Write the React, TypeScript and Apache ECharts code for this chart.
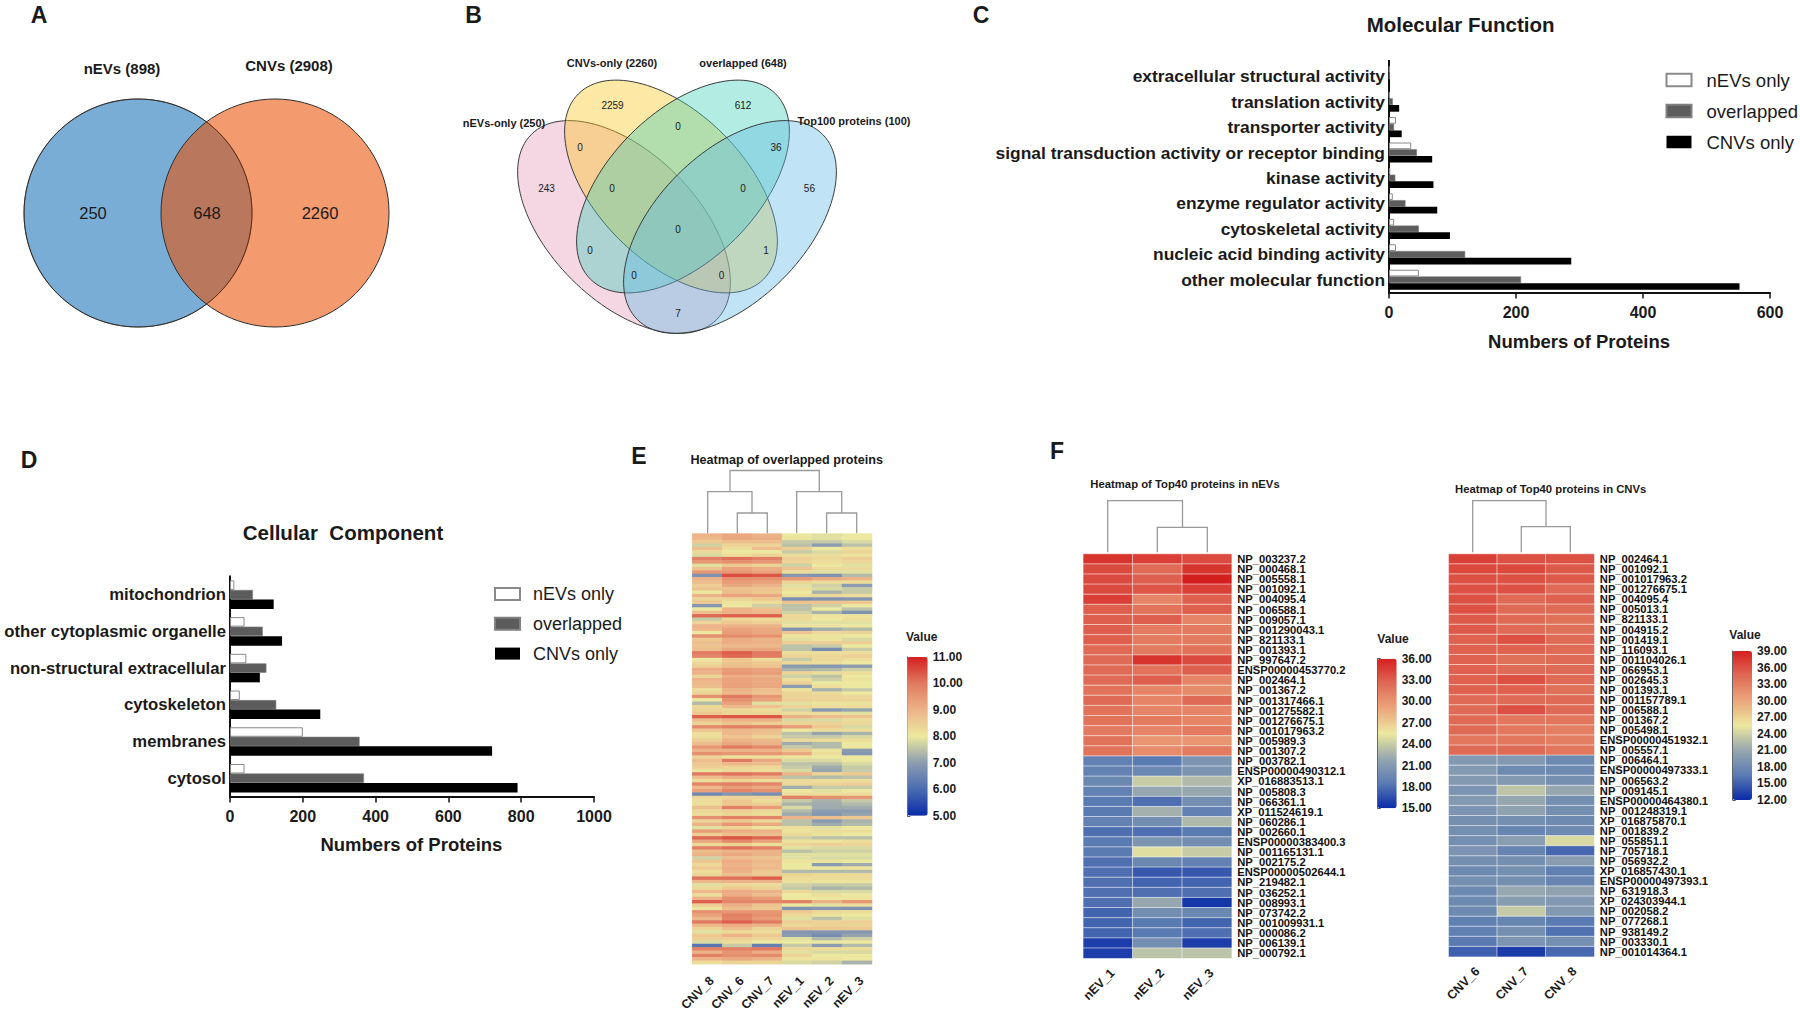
import React, { useEffect, useRef } from "react";
import * as echarts from "echarts";

const FONT = '"Liberation Sans", Arial, sans-serif';

// Venn A
const vennALabels = ["nEVs (898)", "CNVs (2908)"];
const vennAValues = ["250", "648", "2260"];
// Venn B
const vennBLabels = ["CNVs-only (2260)", "overlapped (648)", "nEVs-only (250)", "Top100 proteins (100)"];
const vennBValues = ["2259", "612", "243", "56", "0", "0", "36", "0", "0", "0", "0", "1", "0", "0", "7"];

// Bars
const seriesNames = ["nEVs only", "overlapped", "CNVs only"];
const mfCategories = [
  "extracellular structural activity", "translation activity", "transporter activity",
  "signal transduction activity or receptor binding", "kinase activity", "enzyme regulator activity",
  "cytoskeletal activity", "nucleic acid binding activity", "other molecular function",
];
const mfNev = [1, 1, 11, 35, 2, 6, 8, 11, 47];
const mfOverlap = [1, 6, 8, 44, 10, 26, 47, 120, 208];
const mfCnv = [1, 16, 20, 68, 70, 76, 96, 287, 552];
const mfTicks = [0, 600, 200];

const ccCategories = ["mitochondrion", "other cytoplasmic organelle", "non-structural extracellular", "cytoskeleton", "membranes", "cytosol"];
const ccNev = [12, 40, 45, 27, 200, 40];
const ccOverlap = [63, 90, 100, 127, 356, 368];
const ccCnv = [120, 143, 82, 248, 720, 790];
const ccTicks = [0, 1000, 200];

// Heatmap E: overlapped proteins, bands read top to bottom
const eColumns = ["CNV_8", "CNV_6", "CNV_7", "nEV_1", "nEV_2", "nEV_3"];
const overlapBandsA = [
  [9, 9.2, 9, 8, 7.9, 8], [8.9, 9.2, 9.1, 8.1, 7.9, 8], [8.6, 8.8, 8.8, 7.6, 7.6, 7.8], [7.7, 8.4, 8.4, 7.5, 7, 7.5],
  [8.8, 8.2, 8.8, 8.5, 8, 8.2], [8.3, 8, 8, 7.6, 7.8, 8.4], [7.8, 8.2, 8.4, 8.2, 8.2, 8.1], [9.9, 10.1, 9.9, 8.5, 8.3, 8.5],
  [9.5, 9.6, 9.5, 8.4, 8.2, 8.3], [7.9, 8.6, 8.4, 7.7, 8, 7.9], [8.7, 9.3, 9.1, 8.7, 8.3, 8.3], [9.5, 9.5, 9.3, 8.2, 7.9, 7.9],
  [6.8, 10.5, 10.4, 6.9, 6.8, 7.4], [9, 9.6, 9.6, 9.5, 9.2, 9], [8.8, 9.4, 9.3, 8.4, 8.2, 8.2], [8.5, 9.2, 9, 7.9, 7.7, 7],
  [8.7, 8.7, 8.7, 8.2, 7.8, 7.6], [8, 8.8, 8.6, 8, 7.3, 7.6], [9, 9.3, 9.2, 8.2, 8.3, 8.2], [8.4, 8.4, 8.6, 6.7, 6.8, 6.9],
  [8.6, 8.1, 8.2, 8.7, 8.7, 8.6], [6.9, 8, 7.7, 7.5, 7.7, 8], [8, 9, 8.8, 7.5, 8, 7.5], [8.8, 9, 8.9, 7.7, 7.3, 6.8],
  [10.2, 10.3, 10.3, 8.3, 8.1, 8.1], [7.6, 8.3, 8.2, 8.3, 8, 8.2], [8.4, 8.6, 8.5, 7.9, 7.9, 7.9], [9, 9, 9, 8.1, 8.1, 8],
  [8.9, 9.3, 9.2, 6.8, 7.2, 7.4], [8, 9.4, 9.2, 8.7, 8.3, 8.4], [9.6, 9.7, 9.6, 8.1, 8.1, 8], [8.6, 9.1, 9, 7.9, 8.1, 7.8],
  [8.8, 9.1, 9, 8.5, 8.5, 8.5],
];
const overlapBandsB = [
  [8.7, 8.9, 8.9, 7.5, 7.6, 8], [8.8, 9.2, 9.2, 7.5, 6.7, 7.6], [10, 10.3, 10, 8.2, 8.2, 8.2], [9.8, 10.2, 10, 8.4, 8.3, 8.5],
  [8, 8.6, 8.2, 7.6, 8.3, 8.2], [8.3, 8.7, 8.6, 8.3, 8.2, 8], [8.5, 8.8, 8.7, 7, 6.9, 7], [9.1, 9.4, 9.3, 7.3, 7.4, 7.7],
  [9, 9.5, 9.4, 8.4, 8.2, 8.2], [8.4, 9.1, 9, 7.7, 7.5, 8], [9, 9.3, 9.2, 8.2, 7.7, 8.1], [8.9, 9.3, 9.2, 8.5, 8, 8],
  [8.8, 9.3, 9.2, 7, 8.2, 8], [8.2, 9, 8.8, 8.1, 7.3, 7.6], [8.4, 8.9, 8.7, 8.4, 8.2, 8], [9.6, 10, 9.5, 8.4, 8.4, 8.3],
  [8, 9.6, 9.3, 8.5, 8.4, 8.4], [7.4, 9.3, 7.9, 7.9, 8.1, 8.1], [8.3, 8.9, 8.7, 8.4, 8.2, 8.2], [8.4, 8.3, 8.2, 7.7, 6.9, 7.1],
  [8.6, 8.4, 8.4, 8.2, 8.2, 7.9], [10.3, 10.4, 10.4, 9, 8.8, 8.7], [8.8, 9, 9, 7.8, 7.8, 8.2], [8.4, 8.7, 8.5, 8.4, 8.4, 8.3],
  [9.7, 9.9, 9.8, 9.4, 8.6, 7.8], [8.7, 8.9, 8.8, 8, 8.2, 8.2], [8.2, 8.9, 8.7, 7.5, 7.1, 7.3], [8.2, 8.7, 8.4, 7.6, 7.6, 7.8],
  [8.5, 9, 8.9, 8.3, 8.2, 8.2], [8.8, 9.2, 9, 7.2, 7.4, 8],
];
const overlapBandsC = [
  [9.5, 10, 9.7, 7.6, 7.4, 8], [9, 9, 9, 8.6, 8.1, 7], [9.6, 9.5, 9.5, 9.2, 8.2, 6.9], [8.4, 8.1, 8.2, 8.1, 8, 8],
  [8.8, 10, 9.2, 7.8, 7.8, 8], [8.6, 8.9, 8.8, 7.5, 7.5, 7.8], [8.5, 8.4, 8.3, 7.6, 7.2, 7.6], [8.1, 8.3, 8.2, 7.8, 7.1, 7.6],
  [10, 10.1, 10, 9, 8.4, 8.6], [8.8, 9.1, 9, 7.5, 7.4, 7.5], [8.2, 8.4, 8.2, 8.3, 8.2, 8.2], [9.8, 9.9, 9.8, 8.3, 8.4, 8.5],
  [8.9, 9.4, 9.2, 7.2, 7.6, 7.6], [9.3, 9.8, 9.6, 8, 7.9, 8], [6.6, 6.9, 6.7, 8.2, 8.2, 8.2], [8.3, 8.4, 8.4, 9.9, 9.6, 9.5],
  [8.2, 8.6, 8.2, 7.6, 7.3, 7.6], [8.2, 8.6, 8.5, 7.3, 7.2, 7.4], [8.8, 9.9, 9.4, 7.8, 7.2, 7.2], [8.3, 8.5, 8.3, 7.4, 7, 7],
  [8.2, 8.3, 8.2, 7.2, 6.9, 7.1], [9.6, 9.9, 9.8, 9, 8.8, 8.6], [8.4, 8.6, 8.3, 7.5, 7, 7.3], [9, 9.5, 9.2, 7.5, 7.2, 7.4],
  [7.9, 8.4, 8.1, 8.2, 7.9, 8], [9.4, 9.1, 9, 8.1, 8.2, 8.2], [8.5, 8.8, 8.8, 8.3, 8.1, 8], [10.2, 10.4, 10.2, 7.7, 7.5, 7.5],
  [9.2, 9.7, 9.3, 8.1, 8.1, 8.2], [8.3, 8.4, 8.2, 8.4, 8.5, 8.4], [9.9, 10.1, 9.9, 7.9, 7.8, 7.8], [8.8, 9, 9, 7.5, 7.7, 7.7],
];
const overlapBandsD = [
  [9, 9.2, 9, 7.9, 7.9, 7.9], [7.7, 8.8, 8.7, 7.9, 7.8, 7.8], [8.6, 9.1, 8.9, 8.1, 8.1, 8], [8.3, 9, 8.8, 8, 7, 7.2],
  [8.6, 9.1, 8.9, 8, 8, 8.1], [8.2, 9, 8.6, 7.4, 7.4, 7.4], [8.4, 8.8, 8.6, 8.4, 8.3, 8.3], [10.1, 10.1, 10.3, 8.2, 8.2, 8.2],
  [8.9, 9, 9, 8.2, 8.1, 8.1], [7.9, 8.3, 8.2, 7.7, 7.6, 7.6], [8.3, 8.6, 8.4, 7.6, 7.3, 7.4], [8.9, 9.1, 9, 8.3, 7.8, 7.8],
  [8.2, 9.1, 8.8, 8, 8.2, 8], [9, 9.6, 9.4, 8, 8, 8.1], [10.3, 9.8, 9.8, 9.9, 9, 9.5], [8.5, 9.1, 8.7, 8, 7.9, 8.2],
  [8.1, 8.8, 8.6, 6.8, 6.9, 6.8], [9.6, 9.5, 9.5, 8.6, 8.3, 8.2], [9.3, 9.9, 9.6, 8.3, 8.1, 8], [8.9, 9.8, 9.4, 7.9, 7.5, 7.9],
  [10, 10.3, 10, 8.5, 8.4, 8.5], [8.9, 9.1, 9, 8.3, 8.4, 8.4], [8.4, 8.8, 8.4, 8.7, 8.6, 8.6], [7.9, 8.3, 8.2, 6.9, 6.9, 6.9],
  [8.6, 9, 8.6, 7, 6.7, 7.1], [8.5, 8.5, 8.4, 7.9, 7.4, 7.7], [7.8, 8.2, 8, 8, 8, 8], [6.2, 7.6, 6.4, 7.6, 7, 7.4],
  [9.9, 9.9, 10, 8.3, 8.2, 8.2], [9, 9.5, 9.1, 7.9, 7.8, 7.8], [9.9, 9.6, 9.7, 8.4, 8, 8], [9, 9.2, 9, 8.1, 8.1, 8],
  [8.2, 8.4, 8.4, 7.8, 7.7, 7.3],
];

// Heatmap F left
const nevColumns = ["nEV_1", "nEV_2", "nEV_3"];
const nevProteins = [
  "NP_003237.2", "NP_000468.1", "NP_005558.1", "NP_001092.1", "NP_004095.4", "NP_006588.1", "NP_009057.1", "NP_001290043.1",
  "NP_821133.1", "NP_001393.1", "NP_997647.2", "ENSP00000453770.2", "NP_002464.1", "NP_001367.2", "NP_001317466.1", "NP_001275582.1",
  "NP_001276675.1", "NP_001017963.2", "NP_005989.3", "NP_001307.2", "NP_003782.1", "ENSP00000490312.1", "XP_016883513.1", "NP_005808.3",
  "NP_066361.1", "XP_011524619.1", "NP_060286.1", "NP_002660.1", "ENSP00000383400.3", "NP_001165131.1", "NP_002175.2", "ENSP00000502644.1",
  "NP_219482.1", "NP_036252.1", "NP_008993.1", "NP_073742.2", "NP_001009931.1", "NP_000086.2", "NP_006139.1", "NP_000792.1",
];
const nevValues = [
  [35, 34.5, 34], [34, 32.5, 35], [34, 33, 36], [34, 33.5, 34.5], [34.5, 31, 33], [33, 32, 33], [33, 33, 31], [33, 31.5, 31.5],
  [33, 31.5, 31.5], [32.5, 31.5, 32], [32.5, 35, 34], [32.5, 32, 33], [32.5, 33, 31], [32, 31, 30.5], [32.5, 31, 32.5], [32, 31, 31],
  [32, 31.5, 31], [31.5, 31, 31.5], [32, 30, 30], [32, 30.5, 31.5], [19, 18.5, 20.5], [19, 19.5, 20.5], [19.5, 24, 23], [19, 22, 22],
  [18.5, 18, 20], [18.5, 22.5, 19], [19, 20, 23], [18, 18, 18.5], [18.5, 20.5, 20], [18.5, 25, 24], [18, 19.5, 19], [18, 17, 17],
  [18, 17.5, 17.5], [18, 18, 18], [18, 22, 15.5], [17.5, 20, 19.5], [17.5, 18.5, 17.5], [17.5, 18.5, 18], [15.8, 20, 15.8], [15.8, 23.5, 23.5],
];

// Heatmap F right
const cnvColumns = ["CNV_6", "CNV_7", "CNV_8"];
const cnvProteins = [
  "NP_002464.1", "NP_001092.1", "NP_001017963.2", "NP_001276675.1", "NP_004095.4", "NP_005013.1", "NP_821133.1", "NP_004915.2",
  "NP_001419.1", "NP_116093.1", "NP_001104026.1", "NP_066953.1", "NP_002645.3", "NP_001393.1", "NP_001157789.1", "NP_006588.1",
  "NP_001367.2", "NP_005498.1", "ENSP00000451932.1", "NP_005557.1", "NP_006464.1", "ENSP00000497333.1", "NP_006563.2", "NP_009145.1",
  "ENSP00000464380.1", "NP_001248319.1", "XP_016875870.1", "NP_001839.2", "NP_055851.1", "NP_705718.1", "NP_056932.2", "XP_016857430.1",
  "ENSP00000497393.1", "NP_631918.3", "XP_024303944.1", "NP_002058.2", "NP_077268.1", "NP_938149.2", "NP_003330.1", "NP_001014364.1",
];
const cnvValues = [
  [37, 36, 36], [36.5, 36.5, 35.5], [36, 36, 35.5], [36, 36, 34.5], [36, 34.5, 35], [36, 34.5, 34.5], [35.5, 34.5, 34], [35.5, 34.5, 34],
  [35, 36, 34.5], [35, 35, 34.5], [35, 34, 34.5], [35, 34.5, 34.5], [35, 36, 34.5], [35, 35, 34], [34.5, 34.5, 34.5], [34.5, 36, 34.5],
  [34.5, 33.5, 33.5], [34.5, 33.5, 33], [33.5, 33.5, 33], [34.5, 34.5, 33.5], [19.5, 19.5, 18], [19.5, 18, 18], [19.5, 19.5, 18.5], [19, 23, 21],
  [19.5, 21, 18.5], [19, 20.5, 18.5], [18.5, 18.5, 18], [18.5, 17.5, 18], [18.5, 20, 24.5], [19, 17.5, 15.5], [18.5, 18.5, 20], [18, 18.5, 17],
  [18.5, 18.5, 17.5], [18, 21, 20.5], [18, 20, 19.5], [18, 23.5, 19.5], [17, 17.5, 16.5], [17, 18.5, 16], [16.5, 19, 18.5], [15, 13, 15.5],
];

const overlapRamp = ["#0a2aa8", "#4a6bb0", "#8c9cb0", "#ece89f", "#edb388", "#e07a60", "#d51f1f"];
const topRamp = ["#0a2aa8", "#5a7bb2", "#97a7b0", "#ece89f", "#eca67c", "#df6a55", "#d51f1f"];

function cells(rows: number[][]) {
  const out: number[][] = [];
  rows.forEach((row, r) => row.forEach((v, c) => out.push([c, r, v])));
  return out;
}

function txt(x: number, y: number, text: string, font: string, align = "center", fill = "#1a1a1a") {
  return { type: "text", x, y, silent: true, style: { text, font, fill, align, verticalAlign: "middle" } };
}

function line(points: number[][], stroke = "#9a9a9a", lineWidth = 1.3) {
  return { type: "polyline", silent: true, shape: { points }, style: { stroke, lineWidth, fill: "none" } };
}

function barGrid(i: number, rect: any, cats: string[], ticks: number[], labelSize: number) {
  const axisLine = { show: true, lineStyle: { color: "#111", width: 2 } };
  return {
    grid: { ...rect, containLabel: false },
    xAxis: {
      type: "value", gridIndex: i, position: "bottom", min: ticks[0], max: ticks[1], interval: ticks[2],
      axisLine, axisTick: { show: true, length: 6, lineStyle: { color: "#111", width: 1.5 } }, splitLine: { show: false },
      axisLabel: { color: "#1a1a1a", fontFamily: FONT, fontWeight: "bold", fontSize: 16, margin: 12, formatter: (v: number) => String(v) },
    },
    yAxis: {
      type: "category", gridIndex: i, inverse: true, data: cats, axisLine, axisTick: { show: false },
      axisLabel: { color: "#1a1a1a", fontFamily: FONT, fontWeight: "bold", fontSize: labelSize, margin: 4, interval: 0 },
    },
  };
}

function heatGrid(i: number, rect: any, cols: string[], rows: string[], showRows: boolean, rowCount: number, margin: number) {
  return {
    grid: rect,
    xAxis: {
      type: "category", gridIndex: i, data: cols, position: "bottom", axisLine: { show: false }, axisTick: { show: false }, splitLine: { show: false },
      axisLabel: { rotate: 45, color: "#1a1a1a", fontFamily: FONT, fontWeight: "bold", fontSize: 12.5, margin, interval: 0, verticalAlign: "top" },
    },
    yAxis: {
      type: "category", gridIndex: i, inverse: true, data: showRows ? rows : Array.from({ length: rowCount }, (_, k) => String(k)),
      position: "right", axisLine: { show: false }, axisTick: { show: false }, splitLine: { show: false },
      axisLabel: showRows ? { show: true, interval: 0, color: "#111", fontFamily: FONT, fontWeight: "bold", fontSize: 11.2, margin: 5.5 } : { show: false },
    },
  };
}

function scaleGrid(i: number, rect: any, min: number, max: number, interval: number) {
  return {
    grid: rect,
    xAxis: { type: "value", gridIndex: i, show: false, min: 0, max: 1 },
    yAxis: {
      type: "value", gridIndex: i, position: "right", min, max, interval, splitLine: { show: false },
      axisLine: { show: true, lineStyle: { color: "#555", width: 1 } },
      axisTick: { show: true, length: 3, lineStyle: { color: "#555" } },
      axisLabel: { color: "#1a1a1a", fontFamily: FONT, fontWeight: "bold", fontSize: 12, margin: 5, formatter: (v: number) => v.toFixed(2) },
    },
  };
}

function visual(seriesIndex: number, min: number, max: number, left: number, top: number, w: number, h: number, color: string[]) {
  return {
    type: "continuous", seriesIndex, min, max, left, top, itemWidth: w, itemHeight: h, padding: 0, dimension: 2,
    calculable: false, realtime: false, hoverLink: false, inRange: { color }, orient: "vertical",
  };
}

function bars(xAxisIndex: number, values: number[][], barWidth: number) {
  const styles = [
    { color: "#ffffff", borderColor: "#8a8a8a", borderWidth: 1 },
    { color: "#5c5c5c", borderColor: "#808080", borderWidth: 0.6 },
    { color: "#000000", borderColor: "#000000", borderWidth: 0 },
  ];
  return values.map((data, k) => ({
    type: "bar", name: seriesNames[k], xAxisIndex, yAxisIndex: xAxisIndex, data, barWidth, barGap: "0%", itemStyle: styles[k], silent: true,
  }));
}

function legend(left: number, top: number, gap: number, itemWidth: number, itemHeight: number, textGap: number, fontSize: number) {
  return {
    data: seriesNames, orient: "vertical", left, top, padding: 0, itemGap: gap, itemWidth, itemHeight, icon: "rect", selectedMode: false,
    textStyle: { color: "#1a1a1a", fontFamily: FONT, fontSize, lineHeight: 20, padding: [0, 0, 0, textGap] },
  };
}

export default function App() {
  const ref = useRef<HTMLDivElement>(null);
  useEffect(() => {
    document.body.style.margin = "0";
    document.body.style.background = "#fff";
    const chart = echarts.init(ref.current!, undefined, { renderer: "svg" });

    const panels = [
      barGrid(0, { left: 1389, top: 63.5, width: 381, height: 229 }, mfCategories, mfTicks, 17.4),
      barGrid(1, { left: 230, top: 576.3, width: 364, height: 220.3 }, ccCategories, ccTicks, 16.7),
      heatGrid(2, { left: 692.3, top: 533.6, width: 179.7, height: 438.4 }, eColumns, [], false, overlapBandsA.length + overlapBandsB.length + overlapBandsC.length + overlapBandsD.length, 10),
      heatGrid(3, { left: 1083.3, top: 554, width: 148.4, height: 404.3 }, nevColumns, nevProteins, true, 40, 8),
      heatGrid(4, { left: 1448.7, top: 554, width: 145.6, height: 402.7 }, cnvColumns, cnvProteins, true, 40, 8),
      scaleGrid(5, { left: 907.3, top: 657, width: 20.4, height: 158.8 }, 5, 11, 1),
      scaleGrid(6, { left: 1377.7, top: 658.7, width: 19, height: 149.6 }, 15, 36, 3),
      scaleGrid(7, { left: 1732.7, top: 651, width: 19.3, height: 149 }, 12, 39, 3),
    ];

    const heat = (i: number, data: number[][], borderWidth: number) => ({
      type: "heatmap", xAxisIndex: i, yAxisIndex: i, data, silent: true, progressive: 0,
      itemStyle: { borderColor: "rgba(255,255,255,0.55)", borderWidth },
      emphasis: { disabled: true },
    });

    const A = "bold 15px " + FONT;
    const vA = "16.5px " + FONT;
    const vB = "10px " + FONT;
    const lB = "bold 11px " + FONT;
    const letter = "bold 23px " + FONT;
    const head = "bold 18.5px " + FONT;
    const head2 = "bold 20.5px " + FONT;
    const sub = "bold 12.6px " + FONT;
    const value = "bold 12px " + FONT;
    const vennStroke = { stroke: "#2e2e2e", lineWidth: 1 };
    const ell = (x: number, y: number, rx: number, ry: number, rotation: number, fill: string, opacity = 1, lw = 0.9) => ({
      type: "ellipse", x, y, rotation, silent: true, shape: { cx: 0, cy: 0, rx, ry },
      style: { fill, stroke: "#333", lineWidth: lw, opacity },
    });
    const q = Math.PI / 4;
    const bPos = [[612.5, 105], [743, 105], [546.5, 188], [809.4, 188], [678, 126], [580, 147], [776, 147], [612, 188], [743, 188], [678, 229], [590, 250], [766, 250], [634, 275], [721.6, 275], [678, 313]];

    const graphic = [
      ell(138, 213, 114, 114, 0, "rgb(122,173,213)", 1, 1),
      { type: "circle", silent: true, shape: { cx: 275, cy: 213, r: 114 }, style: { fill: "rgba(234,80,1,0.57)", ...vennStroke } },
      { type: "circle", silent: true, shape: { cx: 138, cy: 213, r: 114 }, style: { fill: "none", stroke: "rgba(40,30,20,0.55)", lineWidth: 1 } },
      txt(122, 68, vennALabels[0], A), txt(289, 65.5, vennALabels[1], A),
      txt(93, 213, vennAValues[0], vA), txt(207, 213, vennAValues[1], vA), txt(320, 213, vennAValues[2], vA),

      ell(624, 227, 131, 74, -q, "rgba(230,152,185,0.4)"),
      ell(671, 186.5, 131, 74, -q, "rgba(250,197,32,0.4)"),
      ell(683, 186.5, 131, 74, q, "rgba(62,207,182,0.4)"),
      ell(730, 227, 131, 74, q, "rgba(97,187,230,0.4)"),
      txt(612, 63, vennBLabels[0], lB), txt(743, 63, vennBLabels[1], lB), txt(504, 123, vennBLabels[2], lB), txt(854, 120.5, vennBLabels[3], lB),
      ...vennBValues.map((v, i) => txt(bPos[i][0], bPos[i][1], v, vB)),

      txt(39, 15, "A", letter), txt(473.6, 15, "B", letter), txt(981, 15, "C", letter), txt(29, 460, "D", letter), txt(639, 456, "E", letter), txt(1057, 451, "F", letter),
      txt(1460.6, 24, "Molecular Function", head2), txt(343, 532.7, "Cellular  Component", head2),
      txt(1579, 341.7, "Numbers of Proteins", head), txt(411.4, 844, "Numbers of Proteins", head),

      txt(786.7, 460, "Heatmap of overlapped proteins", sub), txt(1185, 484, "Heatmap of Top40 proteins in nEVs", "bold 11.3px " + FONT), txt(1550.7, 489, "Heatmap of Top40 proteins in CNVs", "bold 11.3px " + FONT),
      txt(921.7, 637.4, "Value", value), txt(1393, 639, "Value", value), txt(1745, 635, "Value", value),

      line([[1389, 60], [1389, 64]], "#111", 2),
      line([[707.7, 533.6], [707.7, 491.7], [752, 491.7], [752, 513]]), line([[737.3, 533.6], [737.3, 513], [767.3, 513], [767.3, 533.6]]),
      line([[796.7, 533.6], [796.7, 491.7], [841.7, 491.7], [841.7, 513]]), line([[826.7, 533.6], [826.7, 513], [856.7, 513], [856.7, 533.6]]),
      line([[730, 491.7], [730, 470.5], [819.3, 470.5], [819.3, 491.7]]),
      line([[1107.7, 552.3], [1107.7, 500.7], [1182.5, 500.7], [1182.5, 527.3]]), line([[1157.3, 552.3], [1157.3, 527.3], [1207.3, 527.3], [1207.3, 552.3]]),
      line([[1472.7, 552.3], [1472.7, 500.7], [1546, 500.7], [1546, 526.7]]), line([[1521.3, 552.3], [1521.3, 526.7], [1570.3, 526.7], [1570.3, 552.3]]),
    ];

    chart.setOption({
      animation: false,
      backgroundColor: "#ffffff",
      textStyle: { fontFamily: FONT },
      grid: panels.map((p) => p.grid),
      xAxis: panels.map((p) => p.xAxis),
      yAxis: panels.map((p) => p.yAxis),
      legend: [legend(1665.5, 70, 11, 25, 12.5, 10, 18.5), legend(494, 584, 9.8, 25, 12, 8, 18)],
      visualMap: [
        visual(6, 5, 11, 907.3, 657, 20.4, 158.8, overlapRamp),
        visual(7, 15, 36, 1377.7, 658.7, 19, 149.6, topRamp),
        visual(8, 12, 39, 1732.7, 651, 19.3, 149, topRamp),
      ],
      series: [
        ...bars(0, [mfNev, mfOverlap, mfCnv], 6.7),
        ...bars(1, [ccNev, ccOverlap, ccCnv], 9.5),
        heat(2, cells([...overlapBandsA, ...overlapBandsB, ...overlapBandsC, ...overlapBandsD]), 0),
        heat(3, cells(nevValues), 1),
        heat(4, cells(cnvValues), 1),
      ],
      graphic,
    });
    return () => chart.dispose();
  }, []);
  return <div ref={ref} style={{ position: "absolute", left: 0, top: 0, width: 1800, height: 1014 }} />;
}
